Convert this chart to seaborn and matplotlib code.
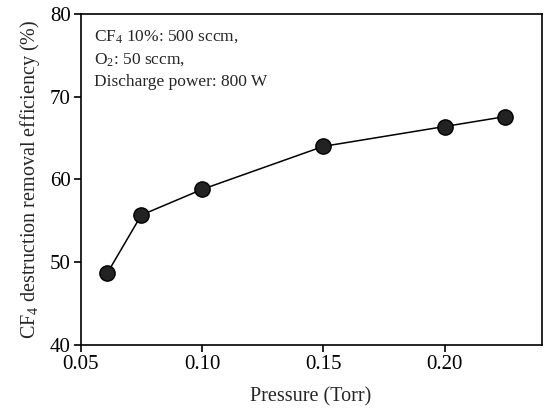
import matplotlib
matplotlib.use("Agg")
import matplotlib.pyplot as plt
import seaborn as sns
import pandas as pd

pressure = [0.061, 0.075, 0.100, 0.150, 0.200, 0.225]
efficiency = [48.7, 55.7, 58.8, 64.0, 66.4, 67.6]
xticks = [0.05, 0.10, 0.15, 0.20]
xticklabels = ["0.05", "0.10", "0.15", "0.20"]
yticks = [40, 50, 60, 70, 80]

sns.set_style("ticks")
plt.rcParams['font.family'] = ['Liberation Serif', 'DejaVu Serif']
plt.rcParams['mathtext.fontset'] = 'custom'
plt.rcParams['mathtext.rm'] = 'Liberation Serif'
plt.rcParams['mathtext.it'] = 'Liberation Serif:italic'

df = pd.DataFrame({"Pressure": pressure, "Eff": efficiency})

fig = plt.figure(figsize=(5.47, 4.08), dpi=100)
ax = fig.add_axes([0.1475, 0.1544, 0.8425, 0.8113])
sns.lineplot(data=df, x="Pressure", y="Eff", ax=ax, color="black", lw=1.1,
             marker="o", markersize=11, markerfacecolor="#222222",
             markeredgecolor="black", markeredgewidth=1.0)

ax.set_xlim(0.05, 0.24)
ax.set_ylim(40, 80)
ax.set_xticks(xticks)
ax.set_xticklabels(xticklabels)
ax.set_yticks(yticks)
ax.tick_params(axis='both', direction='out', length=5, width=1.2, labelsize=15,
               colors='black', top=False, right=False, pad=2)
for s in ax.spines.values():
    s.set_linewidth(1.2)
    s.set_color('black')
ax.set_xlabel("Pressure (Torr)", fontsize=14.5, labelpad=10)
ax.set_ylabel("CF$_4$ destruction removal efficiency (%)", fontsize=14.5, labelpad=6)

ax.text(0.029, 0.958, "CF$_4$ 10%: 500 sccm,\nO$_2$: 50 sccm,\nDischarge power: 800 W",
        transform=ax.transAxes, ha='left', va='top', fontsize=12.5, linespacing=1.5)

fig.savefig("out.png", dpi=100)
